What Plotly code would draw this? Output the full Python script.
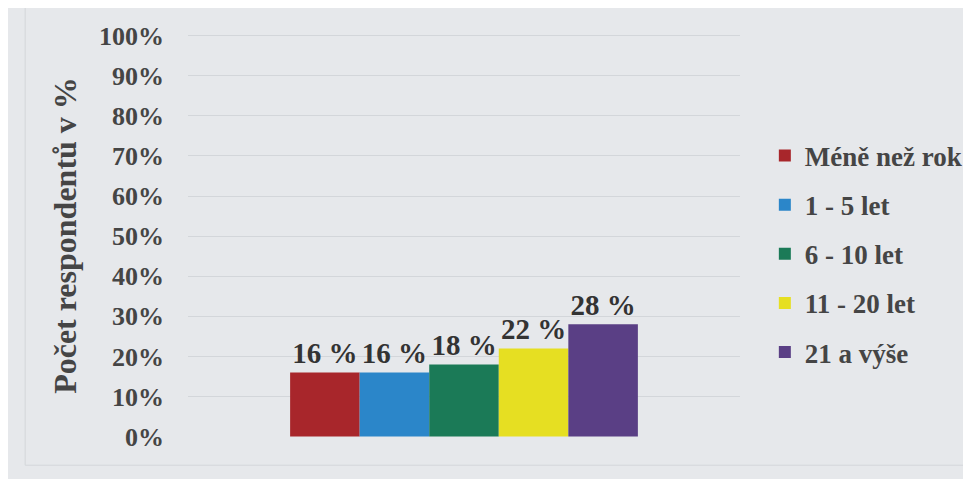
import plotly.graph_objects as go

categories = [""]
series_names = ["Méně než rok", "1 - 5 let", "6 - 10 let", "11 - 20 let", "21 a výše"]
series_values = [16, 16, 18, 22, 28]
value_labels = ["16 %", "16 %", "18 %", "22 %", "28 %"]
colors = ["#a8262b", "#2b86c9", "#1b7a57", "#e6df22", "#5a3f85"]
tick_vals = [0, 10, 20, 30, 40, 50, 60, 70, 80, 90, 100]
tick_text = [f"{v}%" for v in tick_vals]

FONT = "Liberation Serif"

fig = go.Figure()
for i, (name, val, lab, col) in enumerate(zip(series_names, series_values, value_labels, colors)):
    fig.add_trace(go.Bar(
        x=categories, y=[val], name=name, marker_color=col, marker_line_width=0,
        text=[lab], textposition="outside", cliponaxis=False,
        textfont=dict(family=FONT, size=29, color="#333333", weight="bold"),
        legendgroup=str(i),
    ))

fig.update_layout(
    width=971, height=479,
    margin=dict(l=180, r=239, t=26, b=50),
    paper_bgcolor="#e6e8eb", plot_bgcolor="#e6e8eb",
    barmode="group", bargap=0.37, bargroupgap=0,
    font=dict(family=FONT, color="#454545"),
    showlegend=True,
    legend=dict(
        x=1.045, y=0.454, xanchor="left", yanchor="middle",
        font=dict(family=FONT, size=27, color="#454545", weight="bold"),
        tracegroupgap=11, bgcolor="rgba(0,0,0,0)",
    ),
)
fig.update_xaxes(showticklabels=False, showgrid=False, zeroline=False, showline=False)
fig.update_yaxes(
    range=[-0.1, 100.4], tickvals=tick_vals, ticktext=tick_text,
    tickfont=dict(family=FONT, size=26, color="#454545", weight="bold"),
    showgrid=True, gridcolor="#d3d6da", gridwidth=1, zeroline=False,
    ticklabelstandoff=23,
    title=dict(text="Počet respondentů v %", font=dict(family=FONT, size=32, color="#454545", weight="bold"), standoff=12),
)
fig.add_shape(type="rect", xref="paper", yref="paper", x0=-0.295, x1=1.42, y0=-0.07, y1=1.1,
              line=dict(color="#d4d6da", width=1), fillcolor="rgba(0,0,0,0)", layer="below")

fig.write_html("out.html")
